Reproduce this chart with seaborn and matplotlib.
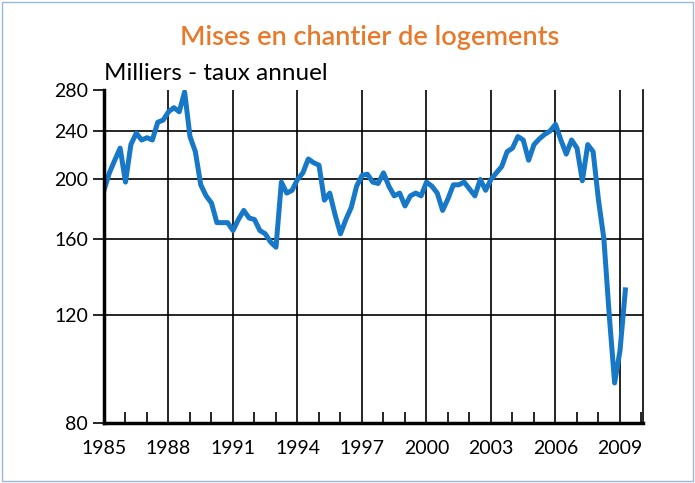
import numpy as np
import pandas as pd
import matplotlib
matplotlib.use("Agg")
import matplotlib.pyplot as plt
import matplotlib.ticker as mticker
from matplotlib.patches import Rectangle
import seaborn as sns

values = [192,205,215,225,198,228,238,232,234,232,248,250,258,262,258,278,
          235,222,196,188,183,170,170,170,165,172,178,173,172,165,163,158,155,
          198,190,192,200,205,216,
          213,211,185,190,175,163,
          172,180,195,203,204,198,197,205,195,188,190,181,188,190,188,198,195,190,178,
          186,196,196,198,193,188,200,192,200,205,210,222,225,235,232,215,228,233,237,240,246,
          232,220,232,225,199,228,222,185,160,120,93,105,132]
start_year = 1985
years = start_year + np.arange(len(values)) * 0.25
yticks = [80, 120, 160, 200, 240, 280]
xticks = [1985, 1988, 1991, 1994, 1997, 2000, 2003, 2006, 2009]

df = pd.DataFrame({"annee": years, "mises": values})
font = "Lato"
plt.rcParams["font.family"] = font

fig = plt.figure(figsize=(6.95, 4.83), dpi=100)
ax = fig.add_axes([104/695, 1-423/483, (643-104)/695, (423-90)/483])
sns.lineplot(data=df, x="annee", y="mises", ax=ax, color="#1878c8", linewidth=3.6)
ax.set_yscale("log")
ax.set_ylim(80, 280)
ax.set_xlim(1985, 2010.07)
ax.yaxis.set_major_locator(mticker.FixedLocator(yticks))
ax.yaxis.set_minor_locator(mticker.NullLocator())
ax.yaxis.set_major_formatter(mticker.FixedFormatter([str(t) for t in yticks]))
ax.set_xticks(xticks)
ax.set_xticks(range(1985, 2011), minor=True)
ax.tick_params(axis="x", which="minor", direction="in", length=8, width=1.2)
ax.tick_params(axis="x", which="major", direction="inout", length=0, labelsize=14, pad=12)
ax.tick_params(axis="y", which="major", direction="out", length=8, width=1.2, labelsize=14)
for t in yticks[1:-1]:
    ax.axhline(t, color="black", lw=1.2, zorder=0)
for t in xticks[1:]:
    ax.axvline(t, color="black", lw=1.2, zorder=0)
ax.spines["top"].set_visible(False)
ax.spines["left"].set_linewidth(2.5)
ax.spines["bottom"].set_linewidth(2.5)
ax.spines["right"].set_linewidth(1.2)
ax.set_xlabel("")
ax.set_ylabel("")
fig.text(104/695, 1-74/483, "Milliers - taux annuel", fontsize=17.5, va="center", ha="left")
fig.text(370/695, 1-38/483, "Mises en chantier de logements", fontsize=19.5, color="#e8792a",
         va="center", ha="center", fontweight="semibold")
fig.patches.append(Rectangle((0.003, 0.004), 0.994, 0.992, transform=fig.transFigure,
                             fill=False, edgecolor="#9ab8d8", lw=1))
fig.savefig("out.png", dpi=100)
